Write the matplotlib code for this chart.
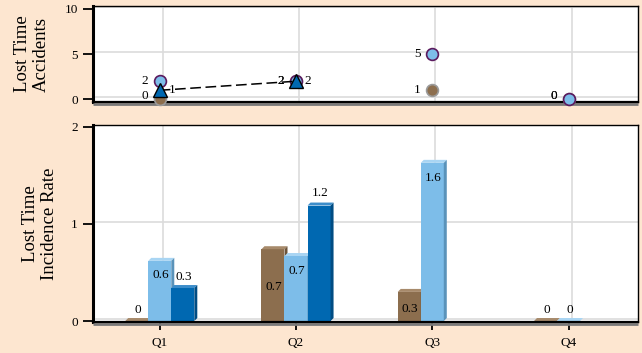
import numpy as np
import matplotlib
matplotlib.use("Agg")
import matplotlib.pyplot as plt
import matplotlib.transforms as mtransforms
from matplotlib.patches import Polygon

# ---- data -------------------------------------------------------------
quarters = ["Q1", "Q2", "Q3", "Q4"]

# lost time accidents (counts) per quarter, three series
accidents_brown = [0, 2, 1, 0]
accidents_light = [2, 2, 5, 0]
accidents_dark = [1, 2, np.nan, np.nan]

# lost time incidence rate per quarter, three series
rate_brown = [0.0, 0.74, 0.30, 0.0]
rate_light = [0.62, 0.67, 1.63, 0.0]
rate_dark = [0.34, 1.19, np.nan, np.nan]

top_ticks = [0, 5, 10]
bottom_ticks = [0, 1, 2]

# ---- style ------------------------------------------------------------
BG = "#FDE6D0"
BROWN = ("#8C6E4E", "#A78A6B", "#6B533A")   # front, top, side
LIGHT = ("#7DBDE9", "#A9D5F3", "#5A93BA")
DARK = ("#0068B1", "#3C8DCA", "#004C83")
SERIF = ["Liberation Serif", "DejaVu Serif"]

plt.rcParams["font.family"] = SERIF

W, H, DPI = 642, 353, 100
fig = plt.figure(figsize=(W / DPI, H / DPI), dpi=DPI, facecolor=BG)


def axes_px(left, top, right, bottom):
    return fig.add_axes([left / W, 1 - bottom / H, (right - left) / W, (bottom - top) / H])


ax_top = axes_px(93, 6, 638, 102)
ax_bot = axes_px(93, 125, 638, 322)

x = np.arange(len(quarters))
XLIM = (-0.49, 3.51)

# back-wall grid offset (pseudo 3D depth)
back = mtransforms.ScaledTranslation(3 / DPI, 2 / DPI, fig.dpi_scale_trans)


def style_axes(ax, ylim, yticks):
    ax.set_facecolor("white")
    ax.set_xlim(*XLIM)
    ax.set_ylim(*ylim)
    ax.set_yticks(yticks)
    ax.set_yticklabels([str(t) for t in yticks], fontsize=9.5)
    ax.tick_params(axis="y", direction="out", length=7, width=1.3, pad=4, color="black")
    for xi in x:
        ax.plot([xi, xi], [0, 1], transform=ax.get_xaxis_transform() + back,
                color="#DCDCDC", lw=1.2, zorder=0.5)
    for yt in yticks:
        ax.plot([0, 1], [yt, yt], transform=ax.get_yaxis_transform() + back,
                color="#DCDCDC", lw=1.2, zorder=0.5)
    ax.spines["left"].set_linewidth(2.2)
    ax.spines["top"].set_linewidth(1.0)
    ax.spines["right"].set_linewidth(1.0)
    ax.spines["bottom"].set_linewidth(1.6)
    ax.spines["bottom"].set_zorder(4)
    # floor shading below the bottom edge
    ax.plot([0, 1.0], [0, 0], transform=ax.transAxes +
            mtransforms.ScaledTranslation(0, -2 / DPI, fig.dpi_scale_trans),
            color="#7A7A7A", lw=2.0, clip_on=False, zorder=3, solid_capstyle="butt")


# ---- top panel: accidents -------------------------------------------
style_axes(ax_top, (-0.3, 10.33), top_ticks)
ax_top.tick_params(axis="x", bottom=False, labelbottom=False)

ax_top.plot(x, accidents_brown, ls="none", marker="o", ms=8.5, mfc=BROWN[0],
            mec="#9A9A9A", mew=1.2, clip_on=False, zorder=5)
ax_top.plot(x, accidents_light, ls="none", marker="o", ms=8.5, mfc=LIGHT[0],
            mec="#5B1A5E", mew=1.2, clip_on=False, zorder=6)
ax_top.plot(x, accidents_dark, ls=(0, (7, 3)), color="black", lw=1.1,
            marker="^", ms=9.5, mfc=DARK[0], mec="black", mew=1.0,
            clip_on=False, zorder=7)

for series, dx in ((accidents_brown, -15), (accidents_light, -15), (accidents_dark, 12)):
    for xi, v in zip(x, series):
        if np.isnan(v):
            continue
        ax_top.annotate(f"{v:g}", (xi, v), xytext=(dx, 3 if v == 0 else 0),
                        textcoords="offset pixels", ha="center", va="center",
                        fontsize=9.5, zorder=8, annotation_clip=False)

# ---- bottom panel: incidence rate ------------------------------------
style_axes(ax_bot, (-0.01, 2.02), bottom_ticks)
ax_bot.set_xticks(x)
ax_bot.set_xticklabels(quarters, fontsize=9.5)
ax_bot.tick_params(axis="x", direction="out", length=6, width=1.3, pad=5)

bw = 0.169
ax_px_w = (638 - 93)
ax_px_h = (322 - 125)
ddx = 3 * (XLIM[1] - XLIM[0]) / ax_px_w
ddy = 3 * (2.02 + 0.01) / ax_px_h

# vertical label offsets (pixels from bar top), per series and quarter
label_dy = {
    "brown": [11, -38, -17, 11],
    "light": [-14, -15, -15, 11],
    "dark": [11, 13, 0, 0],
}

for key, vals, off, cols in (("brown", rate_brown, -bw, BROWN),
                             ("light", rate_light, 0.0, LIGHT),
                             ("dark", rate_dark, bw, DARK)):
    for xi, v, dy in zip(x, vals, label_dy[key]):
        if np.isnan(v):
            continue
        cx = xi + off
        x0, x1 = cx - bw / 2, cx + bw / 2
        ax_bot.bar(cx, v, width=bw, color=cols[0], linewidth=0, zorder=2)
        top = Polygon([(x0, v), (x1, v), (x1 + ddx, v + ddy), (x0 + ddx, v + ddy)],
                      closed=True, fc=cols[1], ec="none", zorder=2)
        side = Polygon([(x1, 0), (x1 + ddx, ddy), (x1 + ddx, v + ddy), (x1, v)],
                       closed=True, fc=cols[2], ec="none", zorder=2)
        ax_bot.add_patch(top)
        ax_bot.add_patch(side)
        ax_bot.annotate(f"{v:.1f}" if v else "0", (cx, v), xytext=(1, dy),
                        textcoords="offset pixels", ha="center", va="center",
                        fontsize=9.5, zorder=6)

# ---- axis titles --------------------------------------------------------
fig.text(32 / W, 1 - 54 / H, "Lost Time\nAccidents", rotation=90, ha="center",
         va="center", fontsize=13.5, linespacing=1.15)
fig.text(40 / W, 1 - 223.5 / H, "Lost Time\nIncidence Rate", rotation=90, ha="center",
         va="center", fontsize=13.5, linespacing=1.15)

fig.savefig("out.png", dpi=DPI, facecolor=BG)
